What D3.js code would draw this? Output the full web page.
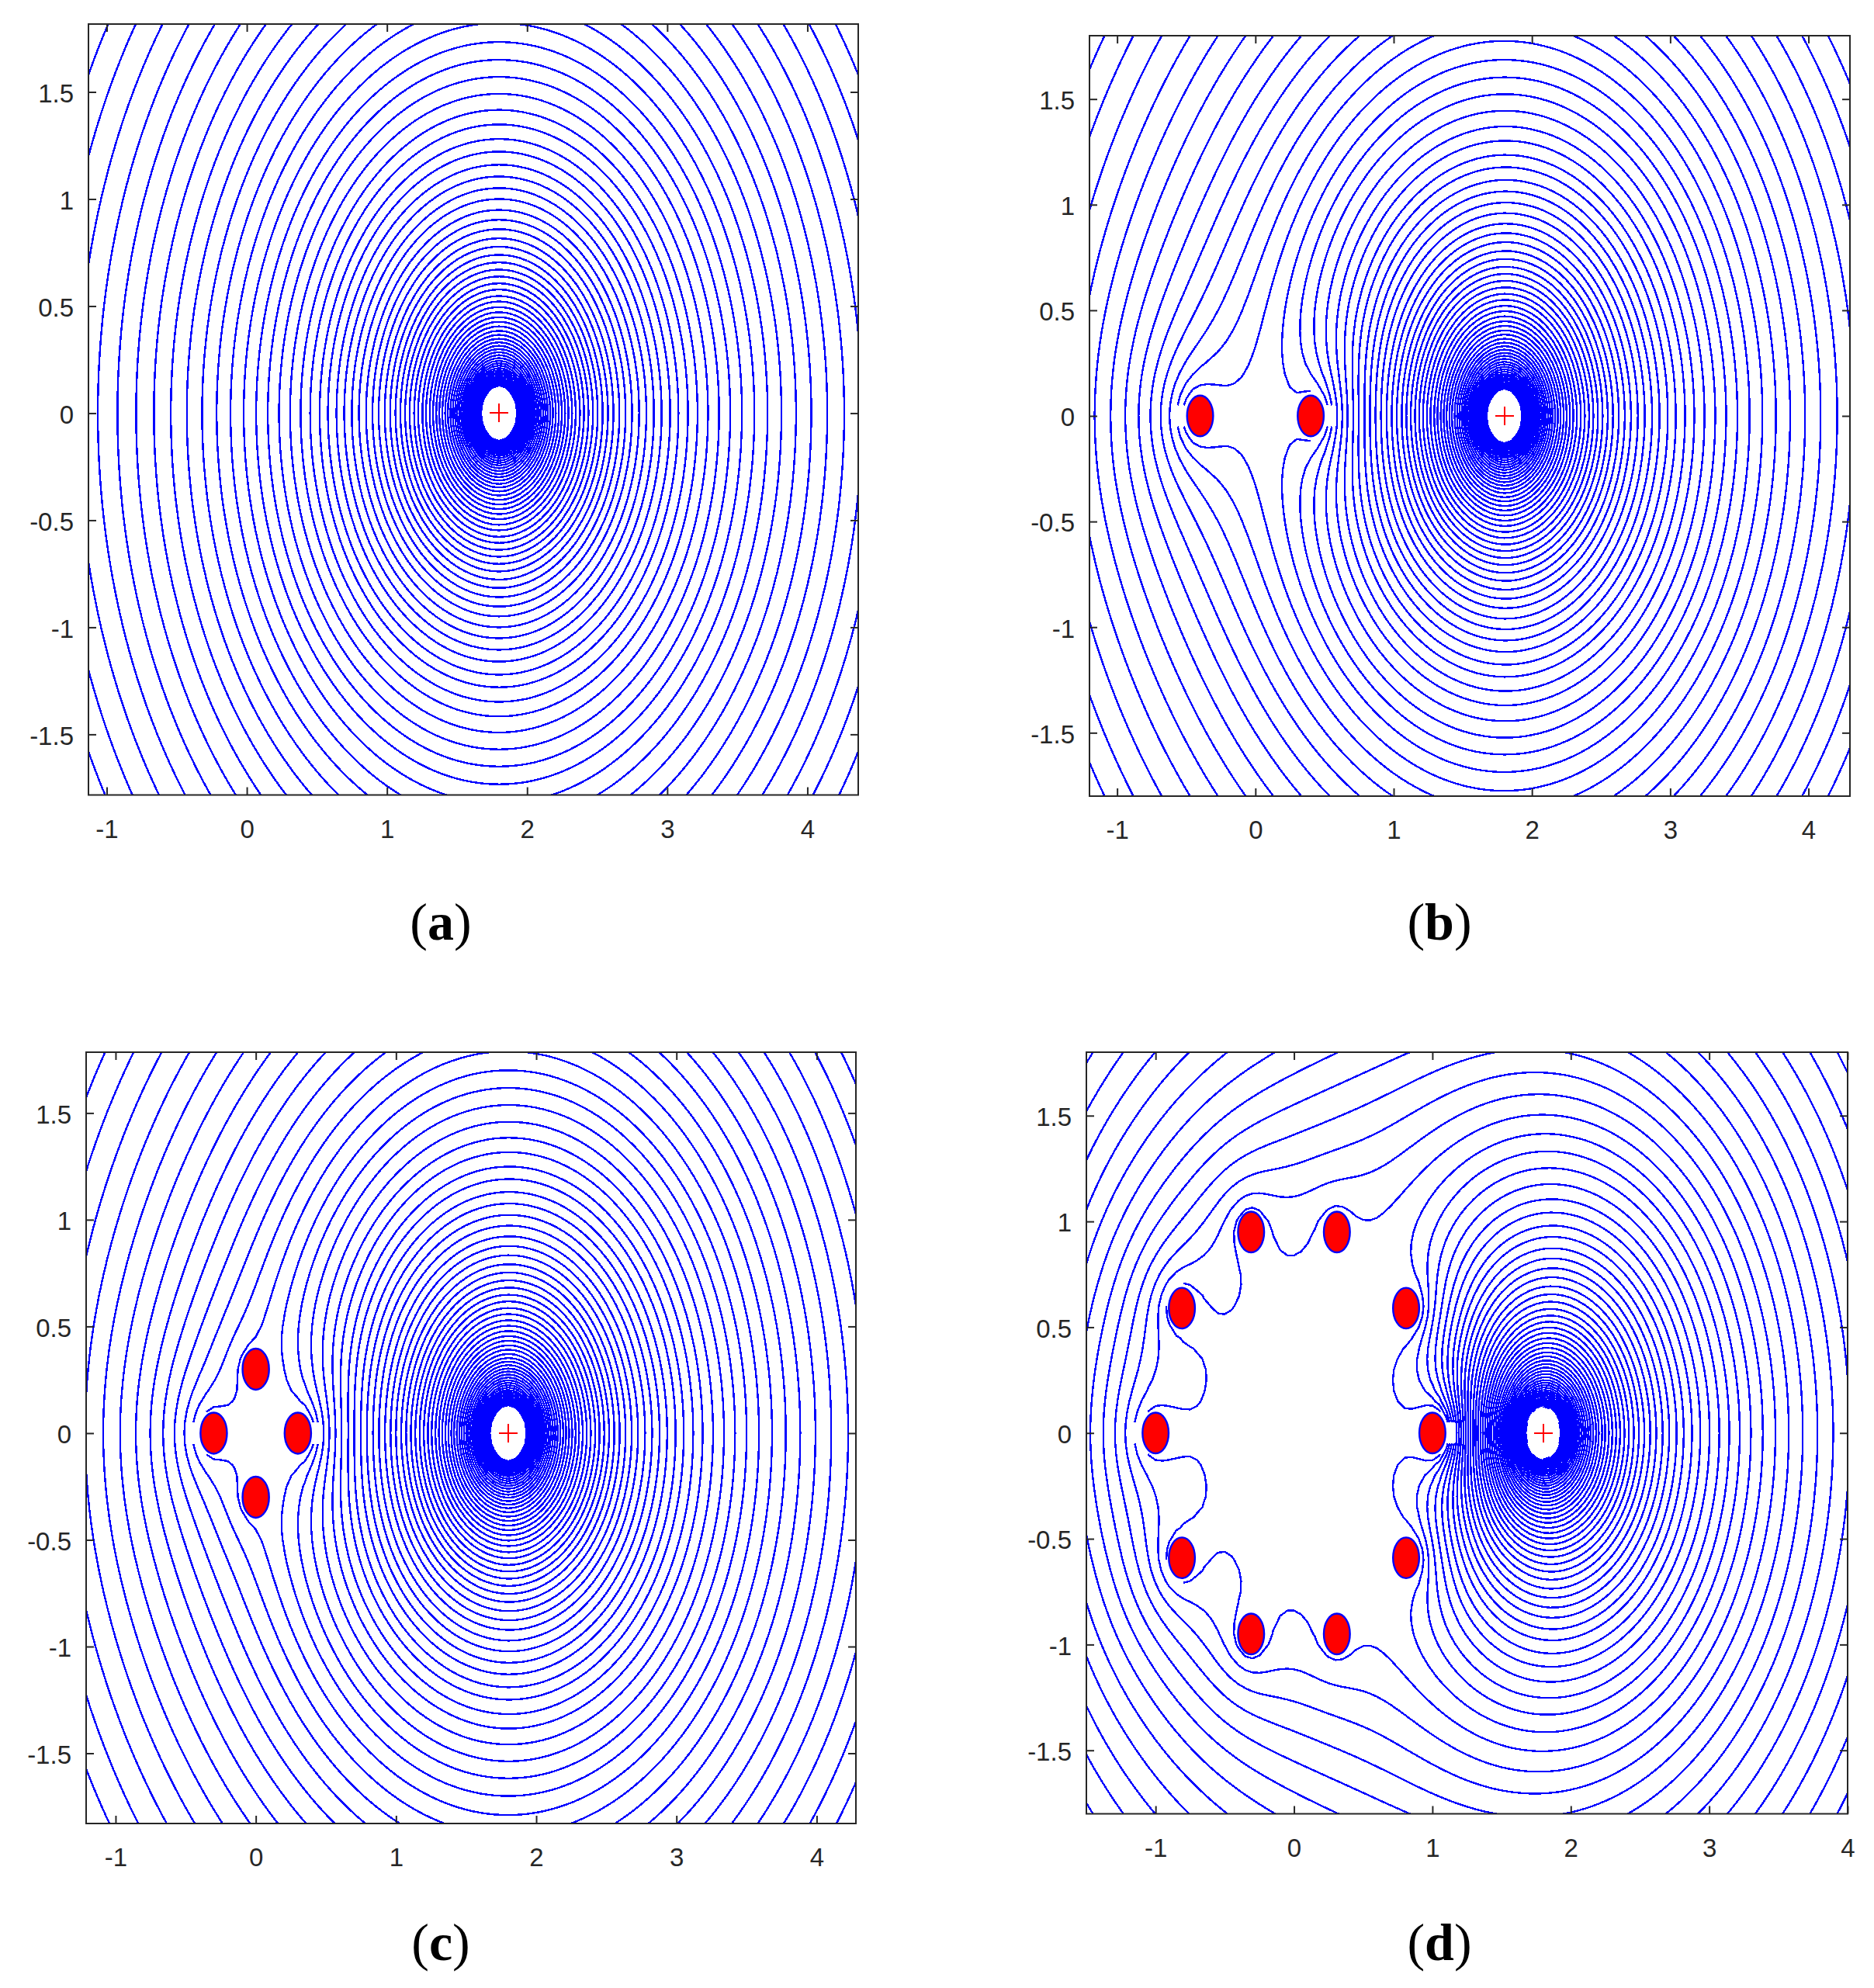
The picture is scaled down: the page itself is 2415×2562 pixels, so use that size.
<!DOCTYPE html>
<html>
<head>
<meta charset="utf-8">
<script src="https://cdn.jsdelivr.net/npm/d3@7"></script>
<style>
  html, body { margin: 0; background: #fff; }
  .tick text { font-family: "Liberation Sans", sans-serif; font-size: 33px; fill: #262626; }
  .caption { font-family: "Liberation Serif", serif; font-size: 68px; fill: #000; text-anchor: middle; }
  .caption .letter { font-weight: bold; }
</style>
</head>
<body>
<svg id="chart" width="2415" height="2562"></svg>
<script>
// Source position and scatterer centres
const sourcePoint = [1.8, 0];
const discsA = [];
const discsB = [[-0.4, 0], [0.4, 0]];
const discsC = [[-0.3, 0], [0.3, 0], [0, 0.3], [0, -0.3]];
const discsD = [
  [-1, 0], [1, 0],
  [-0.81, 0.59], [0.81, 0.59], [-0.81, -0.59], [0.81, -0.59],
  [-0.31, 0.95], [0.31, 0.95], [-0.31, -0.95], [0.31, -0.95]
];
const discRadius = 0.1;
const holeRadius = 0.125;

// Contour radii measured along the vertical through the source in panel (a)
const contourRadii = [
  3.68, 3.5, 3.329, 3.166, 3.011, 2.863, 2.723, 2.59, 2.463, 2.342, 2.228, 2.119,
  2.015, 1.916, 1.822, 1.733, 1.65, 1.57, 1.491, 1.416, 1.348, 1.28, 1.221, 1.16,
  1.105, 1.051, 1.0, 0.949, 0.903, 0.859, 0.816, 0.777, 0.739, 0.704, 0.67, 0.638,
  0.606, 0.577, 0.547, 0.521, 0.495, 0.471, 0.448, 0.426, 0.405, 0.384, 0.365, 0.347,
  0.33, 0.314, 0.299, 0.284, 0.27, 0.257, 0.244, 0.232, 0.221, 0.21, 0.2, 0.19,
  0.181, 0.172, 0.164, 0.156, 0.148, 0.141, 0.134, 0.127
];

const xTicks = [-1, 0, 1, 2, 3, 4];
const yTicks = [-1.5, -1, -0.5, 0, 0.5, 1, 1.5];

const panels = [
  { id: "a", discs: discsA, box: [114, 31, 1106, 1024.5], xDomain: [-1.13, 4.363], yDomain: [-1.783, 1.817], captionX: 568, captionY: 1211 },
  { id: "b", discs: discsB, box: [1404, 46, 2384, 1026], xDomain: [-1.2, 4.3], yDomain: [-1.8, 1.8], captionX: 1855, captionY: 1211 },
  { id: "c", discs: discsC, box: [111, 1356, 1103, 2350], xDomain: [-1.21, 4.28], yDomain: [-1.829, 1.785], captionX: 568, captionY: 2526 },
  { id: "d", discs: discsD, box: [1400, 1356, 2381, 2337.5], xDomain: [-1.5, 4], yDomain: [-1.8, 1.8], captionX: 1855, captionY: 2526 }
];

// Computation grid, same spacing on both axes
const gridStep = 0.05;
const gridX0 = -1.6, gridY0 = -1.9;
const gridNx = 123, gridNy = 77;

function solveLinear(A, b) {
  const n = b.length;
  const M = A.map((row, i) => [...row, b[i]]);
  for (let c = 0; c < n; c++) {
    let p = c;
    for (let r = c + 1; r < n; r++) if (Math.abs(M[r][c]) > Math.abs(M[p][c])) p = r;
    [M[c], M[p]] = [M[p], M[c]];
    for (let r = 0; r < n; r++) {
      if (r === c) continue;
      const f = M[r][c] / M[c][c];
      for (let k = c; k <= n; k++) M[r][k] -= f * M[c][k];
    }
  }
  return M.map((row, i) => row[n] / row[i]);
}

// Charge and dipole terms of one disc at a point
function discTerms(h, x, y) {
  const dx = x - h[0], dy = y - h[1];
  const r2 = Math.max(dx * dx + dy * dy, 0.0004);
  return [0.5 * Math.log(r2), discRadius * dx / r2, discRadius * dy / r2];
}

// Each disc is one equipotential, tested at three rim points, with zero net charge
function discCoefficients(discs) {
  const n = discs.length;
  if (!n) return [];
  const A = [], b = [];
  discs.forEach((h) => {
    [0, 2, 4].forEach((k) => {
      const t = k * Math.PI / 3;
      const x = h[0] + discRadius * Math.cos(t), y = h[1] + discRadius * Math.sin(t);
      const row = discs.flatMap((g) => discTerms(g, x, y));
      row.push(-1);
      A.push(row);
      b.push(-Math.log(Math.hypot(x - sourcePoint[0], y - sourcePoint[1])));
    });
  });
  const net = new Array(3 * n + 1).fill(0);
  discs.forEach((h, j) => { net[3 * j] = 1; });
  A.push(net);
  b.push(0);
  return solveLinear(A, b).slice(0, 3 * n);
}

function fieldValues(discs) {
  const q = discCoefficients(discs);
  const values = new Float64Array(gridNx * gridNy);
  for (let j = 0; j < gridNy; j++) {
    for (let i = 0; i < gridNx; i++) {
      const x = gridX0 + i * gridStep, y = gridY0 + j * gridStep;
      let u = Math.log(Math.max(Math.hypot(x - sourcePoint[0], y - sourcePoint[1]), 0.02));
      discs.forEach((h, k) => {
        const t = discTerms(h, x, y);
        u += q[3 * k] * t[0] + q[3 * k + 1] * t[1] + q[3 * k + 2] * t[2];
      });
      values[j * gridNx + i] = u;
    }
  }
  return values;
}

const svg = d3.select("#chart");
const thresholds = contourRadii.map(Math.log).sort(d3.ascending);
const gridToX = d3.scaleLinear().domain([0.5, gridNx - 0.5]).range([gridX0, gridX0 + (gridNx - 1) * gridStep]);
const gridToY = d3.scaleLinear().domain([0.5, gridNy - 0.5]).range([gridY0, gridY0 + (gridNy - 1) * gridStep]);

function drawPanel(p) {
  const [left, top, right, bottom] = p.box;
  const x = d3.scaleLinear().domain(p.xDomain).range([left, right]);
  const y = d3.scaleLinear().domain(p.yDomain).range([bottom, top]);
  const g = svg.append("g");

  g.append("clipPath").attr("id", `clip-${p.id}`)
    .append("rect").attr("x", left).attr("y", top).attr("width", right - left).attr("height", bottom - top);

  // Points too close to the source or a disc are left out of the lines,
  // with a small notch on the axis beside the discs that sit on y = 0
  const keep = ([px, py]) => {
    const dx = gridToX(px), dy = gridToY(py);
    if (Math.hypot(dx - sourcePoint[0], dy - sourcePoint[1]) < holeRadius) return false;
    return p.discs.every((h) => {
      if (Math.hypot(dx - h[0], dy - h[1]) < discRadius + 0.012) return false;
      const off = Math.abs(dx - h[0]);
      return !(h[1] === 0 && off < 0.175 && Math.abs(dy) < 0.07 - 0.32 * off);
    });
  };
  const line = d3.line()
    .defined(keep)
    .x((d) => x(gridToX(d[0])))
    .y((d) => y(gridToY(d[1])));

  const contours = d3.contours().size([gridNx, gridNy]).thresholds(thresholds)(fieldValues(p.discs));
  g.append("g").attr("clip-path", `url(#clip-${p.id})`)
    .selectAll("path").data(contours).join("path")
    .attr("d", (c) => c.coordinates.flat().map((ring) => line(ring)).join(""))
    .attr("fill", "none")
    .attr("stroke", "#0000ff")
    .attr("stroke-width", 2.4)
    .attr("shape-rendering", "crispEdges");

  g.selectAll("ellipse").data(p.discs).join("ellipse")
    .attr("cx", (d) => x(d[0]))
    .attr("cy", (d) => y(d[1]))
    .attr("rx", (d) => Math.abs(x(d[0] + discRadius) - x(d[0])) - 1)
    .attr("ry", (d) => Math.abs(y(d[1] + discRadius) - y(d[1])) - 1)
    .attr("fill", "#ff0000")
    .attr("stroke", "#0000ff")
    .attr("stroke-width", 2.4);

  const sx = x(sourcePoint[0]), sy = y(sourcePoint[1]);
  g.append("path")
    .attr("d", `M${sx - 12},${sy}H${sx + 12}M${sx},${sy - 12}V${sy + 12}`)
    .attr("stroke", "#ff0000").attr("stroke-width", 2).attr("fill", "none")
    .attr("shape-rendering", "crispEdges");

  // Box and inward ticks on all four sides
  const axes = [
    d3.axisBottom(x).tickValues(xTicks).tickSize(-10).tickPadding(32).tickFormat((d) => String(d)),
    d3.axisLeft(y).tickValues(yTicks).tickSize(-10).tickPadding(19).tickFormat((d) => String(d)),
    d3.axisTop(x).tickValues(xTicks).tickSize(-10).tickFormat(""),
    d3.axisRight(y).tickValues(yTicks).tickSize(-10).tickFormat("")
  ];
  const shifts = [[0, bottom], [left, 0], [0, top], [right, 0]];
  axes.forEach((axis, i) => {
    const a = g.append("g").attr("transform", `translate(${shifts[i]})`).call(axis);
    a.select(".domain").remove();
    a.selectAll("line").attr("stroke", "#262626").attr("stroke-width", 2);
    if (i === 1) a.selectAll("text").attr("dy", "0.39em");
  });
  g.append("rect")
    .attr("x", left).attr("y", top).attr("width", right - left).attr("height", bottom - top)
    .attr("fill", "none").attr("stroke", "#262626").attr("stroke-width", 2);

  const cap = g.append("text").attr("class", "caption").attr("x", p.captionX).attr("y", p.captionY);
  cap.append("tspan").text("(");
  cap.append("tspan").attr("class", "letter").text(p.id);
  cap.append("tspan").text(")");
}

panels.forEach(drawPanel);
</script>
</body>
</html>
